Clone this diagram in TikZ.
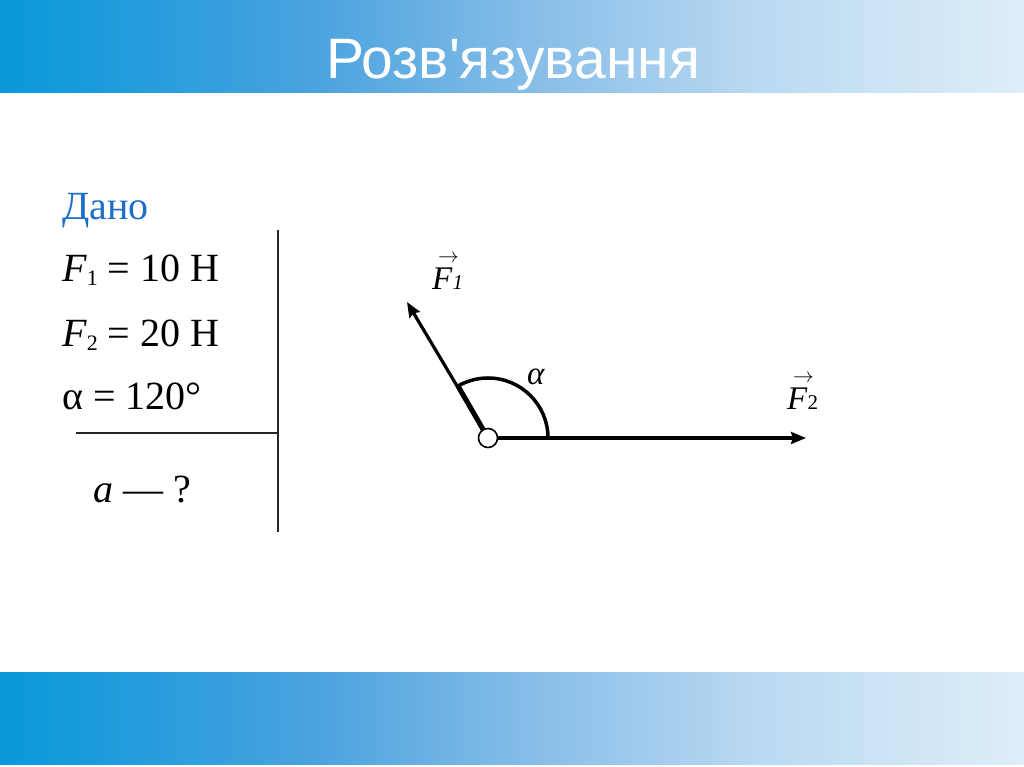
\documentclass[tikz,border=0pt]{standalone}
\usepackage{fontspec}
\setmainfont{Liberation Serif}
\newfontfamily\titlefont{Liberation Sans}
\usetikzlibrary{arrows.meta}
\definecolor{danoblue}{RGB}{30,110,200}
\pgfdeclarehorizontalshading{band}{100bp}{
  color(0bp)=({rgb,255:red,8;green,152;blue,218});
  color(25bp)=({rgb,255:red,8;green,152;blue,218});
  color(40bp)=({rgb,255:red,72;green,162;blue,222});
  color(52bp)=({rgb,255:red,140;green,192;blue,233});
  color(62bp)=({rgb,255:red,186;green,217;blue,241});
  color(75bp)=({rgb,255:red,222;green,238;blue,249});
  color(100bp)=({rgb,255:red,222;green,238;blue,249})}
\newcommand\vecarrowF{\rlap{\kern6pt\raisebox{27pt}{\fontsize{20}{20}\selectfont$\rightarrow$}}\textit{F}}
\tikzset{
  txt/.style={anchor=base west, inner sep=0pt, font=\fontsize{40}{46}\selectfont},
  vlab/.style={anchor=base west, inner sep=0pt, font=\fontsize{33}{38}\selectfont},
  rule/.style={line width=1.4pt, black!85},
  vec/.style={line width=3.2pt, -{Stealth[length=15pt,width=12pt,inset=2pt]}},
}
\begin{document}
\begin{tikzpicture}[x=1pt,y=1pt]
\useasboundingbox (0,0) rectangle (1024,767);
\fill[white] (0,0) rectangle (1024,767);
\shade[shading=band] (0,674) rectangle (1024,767);
\shade[shading=band] (0,2) rectangle (1024,94);
\node[anchor=base, inner sep=0pt, text=white, font=\titlefont\fontsize{57}{64}\selectfont] (title) at (513,688) {Розв'язування};
% given data
\node[txt, text=danoblue] (dano) at (62,547) {Дано};
\node[txt] (f1) at (62,485) {\textit{F}\raisebox{-0.1em}{\fontsize{22}{24}\selectfont 1} = 10 Н};
\node[txt] (f2) at (62,420) {\textit{F}\raisebox{-0.1em}{\fontsize{22}{24}\selectfont 2} = 20 Н};
\node[txt] (al) at (62,357) {α = 120°};
\node[txt] (ask) at (93,264) {\textit{a} — ?};
\coordinate (hl) at (76,334);
\coordinate (hr) at (278,334);
\coordinate (vt) at (278,537);
\coordinate (vb) at (278,235);
\draw[rule] (hl) -- (hr);
\draw[rule] (vt) -- (vb);
% vectors
\coordinate (O) at (488,329);
\coordinate (T2) at (806,329);
\coordinate (T1) at (407,465);
\coordinate (A1) at (458,381);
\coordinate (A2) at (548,329);
\draw[vec] (O) -- (T2);
\draw[vec] (O) -- (T1);
\draw[line width=5pt] (O) -- (A1);
\draw[line width=3.5pt] (A2) arc[start angle=0, end angle=120, radius=60];
\node[circle, draw, line width=1.6pt, fill=white, minimum size=19pt, inner sep=0pt] (Oc) at (O) {};
\node[vlab] (la) at (527,382) {\textit{α}};
\node[vlab] (lf1) at (432,477) {\vecarrowF{\fontsize{21}{24}\selectfont\textit{1}}};
\node[vlab] (lf2) at (787,357) {\vecarrowF{\fontsize{21}{24}\selectfont 2}};
\end{tikzpicture}
\end{document}
